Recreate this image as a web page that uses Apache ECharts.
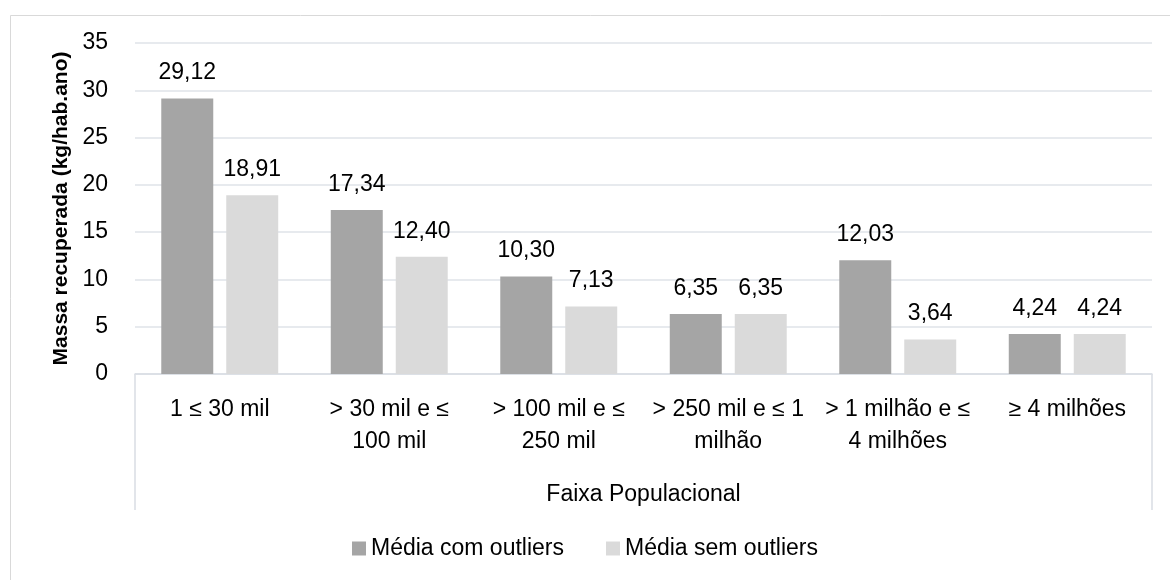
<!DOCTYPE html>
<html>
<head>
<meta charset="utf-8">
<script src="https://cdn.jsdelivr.net/npm/echarts@6/dist/echarts.min.js"></script>
<style>
  html, body { margin: 0; padding: 0; background: #fff; }
  #chart { width: 1170px; height: 580px; }
</style>
</head>
<body>
<div id="chart"></div>
<script>
var chart = echarts.init(document.getElementById('chart'))

// dados
var categorias = [
  '1 ≤ 30 mil',
  '> 30 mil e ≤\n100 mil',
  '> 100 mil e ≤\n250 mil',
  '> 250 mil e ≤ 1\nmilhão',
  '> 1 milhão e ≤\n4 milhões',
  '≥ 4 milhões'
]
var comOutliers = [29.12, 17.34, 10.30, 6.35, 12.03, 4.24]
var semOutliers = [18.91, 12.40, 7.13, 6.35, 3.64, 4.24]

var fonte = 'Liberation Sans, Arial, sans-serif'
var gridLeft = 135
var gridRight = 18
var gridTop = 43
var gridBottom = 206
var linha = '#d9dde3'

function rotulo(p) {
  return p.value.toFixed(2).replace('.', ',')
}

var option = {
  animation: false,
  backgroundColor: '#fff',
  textStyle: { fontFamily: fonte },
  grid: {
    left: gridLeft,
    right: gridRight,
    top: gridTop,
    bottom: gridBottom,
    containLabel: false
  },
  legend: {
    bottom: 15,
    left: 'center',
    itemWidth: 14,
    itemHeight: 14,
    itemGap: 42,
    icon: 'rect',
    textStyle: { fontSize: 23, color: '#000', fontFamily: fonte },
    data: ['Média com outliers', 'Média sem outliers']
  },
  xAxis: {
    type: 'category',
    data: categorias,
    name: 'Faixa Populacional',
    nameLocation: 'middle',
    nameGap: 109,
    nameTextStyle: { fontSize: 23, color: '#000', fontFamily: fonte },
    axisLine: { show: true, lineStyle: { color: linha, width: 1.5 } },
    axisTick: { show: false },
    axisLabel: {
      margin: 20,
      fontSize: 23,
      lineHeight: 32,
      color: '#000',
      interval: 0,
      fontFamily: fonte
    }
  },
  yAxis: {
    type: 'value',
    min: 0,
    max: 35,
    interval: 5,
    name: 'Massa recuperada (kg/hab.ano)',
    nameLocation: 'middle',
    nameGap: 61,
    nameTextStyle: { fontSize: 21, fontWeight: 'bold', color: '#000', fontFamily: fonte },
    axisLine: { show: false },
    axisTick: { show: false },
    axisLabel: { margin: 27, fontSize: 23, color: '#000', fontFamily: fonte },
    splitLine: { lineStyle: { color: '#dfe3e9', width: 1.5 } }
  },
  graphic: [
    {
      type: 'rect',
      left: 8, top: 13,
      shape: { width: 1200, height: 600 },
      style: { fill: 'none', stroke: '#d9d9d9', lineWidth: 1 },
      silent: true
    },
    {
      type: 'line',
      shape: { x1: gridLeft, y1: 580 - gridBottom, x2: gridLeft, y2: 510 },
      style: { stroke: linha, lineWidth: 1.5 },
      silent: true
    },
    {
      type: 'line',
      shape: { x1: 1170 - gridRight, y1: 580 - gridBottom, x2: 1170 - gridRight, y2: 510 },
      style: { stroke: linha, lineWidth: 1.5 },
      silent: true
    }
  ],
  series: [
    {
      name: 'Média com outliers',
      type: 'bar',
      data: comOutliers,
      barGap: '25%',
      barCategoryGap: '31%',
      itemStyle: { color: '#a5a5a5' },
      label: {
        show: true,
        position: 'top',
        distance: 14,
        fontSize: 23,
        color: '#000',
        fontFamily: fonte,
        formatter: rotulo
      }
    },
    {
      name: 'Média sem outliers',
      type: 'bar',
      data: semOutliers,
      barGap: '25%',
      barCategoryGap: '31%',
      itemStyle: { color: '#dadada' },
      label: {
        show: true,
        position: 'top',
        distance: 14,
        fontSize: 23,
        color: '#000',
        fontFamily: fonte,
        formatter: rotulo
      }
    }
  ]
}
chart.setOption(option)
</script>
</body>
</html>
